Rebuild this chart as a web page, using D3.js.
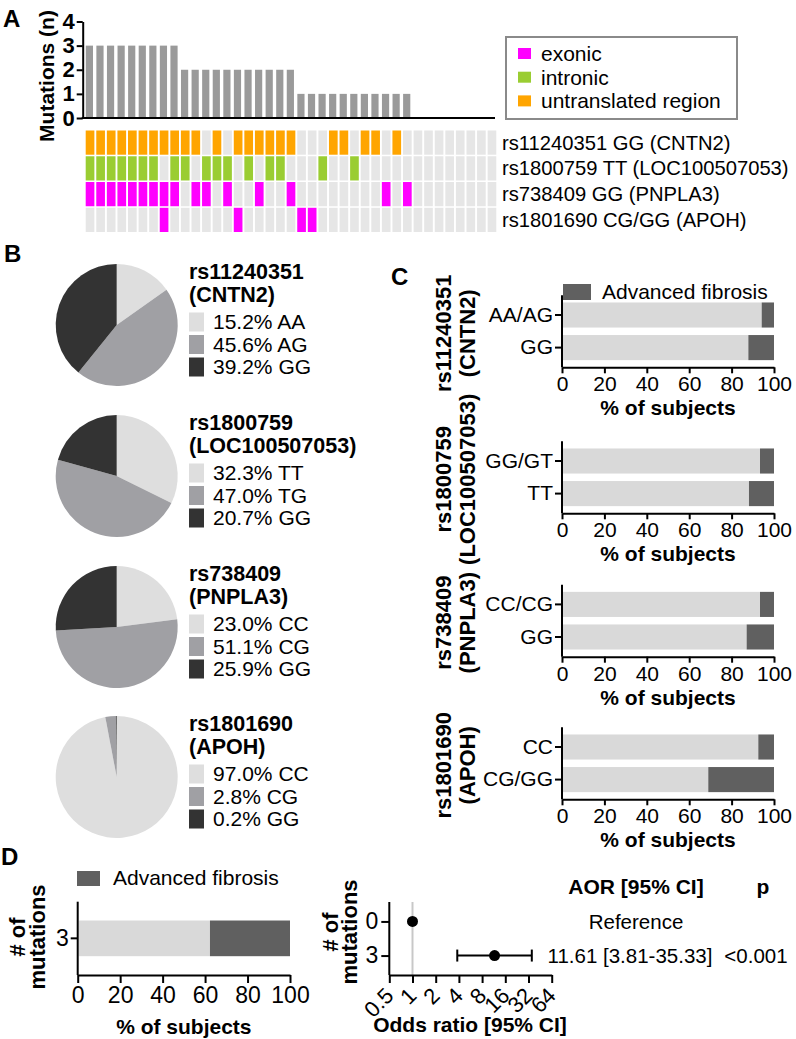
<!DOCTYPE html>
<html>
<head>
<meta charset="utf-8">
<script src="https://cdn.jsdelivr.net/npm/d3@7"></script>
<style>
  body { margin: 0; background: #fff; }
  svg { font-family: "Liberation Sans", Arial, sans-serif; }
</style>
</head>
<body>
<svg id="fig" width="796" height="1039"></svg>
<script>
// ---------- data ----------
// A: number of risk genotypes per subject (one bar per subject)
var subjectMutations = [3,3,3,3,3,3,3,3,3, 2,2,2,2,2,2,2,2,2,2,2, 1,1,1,1,1,1,1,1,1,1,1, 0,0,0,0,0,0,0,0];
var snpRows = ["rs11240351 GG (CNTN2)", "rs1800759 TT (LOC100507053)", "rs738409 GG (PNPLA3)", "rs1801690 CG/GG (APOH)"];
var snpRegion = ["untranslated region", "intronic", "exonic", "exonic"];
// subjects (column index) carrying each risk genotype
var cntn2Hits = [0,1,2,3,4,5,6,7,8,9,10,12,14,15,16,17,18,19,23,24,26,27,29];
var loc100Hits = [0,1,2,3,4,5,6,8,9,11,12,13,15,17,18,22,25];
var pnpla3Hits = [0,1,2,3,4,5,6,7,8,10,11,13,16,19,28,30];
var apohHits = [7,14,20,21];
var regionNames = ["exonic", "intronic", "untranslated region"];
var regionColors = ["#ff00ff", "#9acd32", "#ffa500"];
var mutationTicks = [0,1,2,3,4];

// B: genotype distribution
var pieTitles = [["rs11240351","(CNTN2)"], ["rs1800759","(LOC100507053)"], ["rs738409","(PNPLA3)"], ["rs1801690","(APOH)"]];
var pieGenotypes = [["AA","AG","GG"], ["TT","TG","GG"], ["CC","CG","GG"], ["CC","CG","GG"]];
var piePercents = [[15.2,45.6,39.2], [32.3,47.0,20.7], [23.0,51.1,25.9], [97.0,2.8,0.2]];
var pieColors = ["#dedede", "#a0a0a4", "#333333"];

// C: % of subjects with advanced fibrosis by genotype group
var fibCategories = [["AA/AG","GG"], ["GG/GT","TT"], ["CC/CG","GG"], ["CC","CG/GG"]];
var fibAdvanced = [[5.8,12.1], [6.6,11.8], [6.6,12.9], [7.4,31.0]];
var pctTicks = [0,20,40,60,80,100];

// D: number of mutations
var dCategories = ["3"];
var dAdvanced = [37.7];
var orCategories = ["0","3"];
var orValues = [1, 11.61];
var orLow = [null, 3.81];
var orHigh = [null, 35.33];
var orTicks = [0.5,1,2,4,8,16,32,64];
var aorText = ["Reference", "11.61 [3.81-35.33]"];
var pText = ["", "<0.001"];

var lightBar = "#d9d9d9", darkBar = "#606060";

var svg = d3.select("#fig");

function styleAxis(g, fs, bold) {
  g.select(".domain").attr("stroke", "#000").attr("stroke-width", 2);
  g.selectAll(".tick line").attr("stroke", "#000").attr("stroke-width", 2);
  g.selectAll("text").attr("font-size", fs).attr("fill", "#000")
    .attr("font-family", '"Liberation Sans", Arial, sans-serif')
    .attr("font-weight", bold ? "bold" : "normal");
}

function letter(t, x, y) {
  svg.append("text").attr("x", x).attr("y", y).attr("font-size", 24)
    .attr("font-weight", "bold").text(t);
}

function rotLabel(lines, xs, cy, fs) {
  lines.forEach(function(l, i) {
    svg.append("text").attr("transform", "translate(" + xs[i] + "," + cy + ") rotate(-90)")
      .attr("text-anchor", "middle").attr("font-size", fs).attr("font-weight", "bold").text(l);
  });
}

// ---------- A ----------
letter("A", 3, 27);
var xCol = d3.scaleBand().domain(d3.range(subjectMutations.length)).range([85.5, 498]).padding(0);
var yMut = d3.scaleLinear().domain([0, 4]).range([118, 21.5]);

svg.append("g").selectAll("rect").data(subjectMutations).join("rect")
  .attr("x", function(d, i) { return xCol(i) + 0.3; })
  .attr("width", xCol.bandwidth() * 0.68)
  .attr("y", function(d) { return yMut(d); })
  .attr("height", function(d) { return yMut(0) - yMut(d); })
  .attr("fill", "#9a9a9a");

var gyA = svg.append("g").attr("transform", "translate(82.7,0)")
  .call(d3.axisLeft(yMut).tickValues(mutationTicks).tickFormat(d3.format("d"))
    .tickSize(6).tickPadding(2).tickSizeOuter(0));
styleAxis(gyA, 22, true);
svg.append("line").attr("x1", 81.7).attr("x2", 495).attr("y1", yMut(0)).attr("y2", yMut(0))
  .attr("stroke", "#000").attr("stroke-width", 2);
rotLabel(["Mutations (n)"], [54], 76, 21);

// legend
svg.append("rect").attr("x", 506).attr("y", 37).attr("width", 231).attr("height", 82)
  .attr("fill", "#fff").attr("stroke", "#8a8a8a").attr("stroke-width", 2);
regionNames.forEach(function(n, i) {
  svg.append("rect").attr("x", 518).attr("y", 48 + i * 23.7).attr("width", 13).attr("height", 11)
    .attr("fill", regionColors[i]);
  svg.append("text").attr("x", 541).attr("y", 53.5 + i * 23.7).attr("dy", "0.35em")
    .attr("font-size", 21).text(n);
});

// tile grid
var yRow = d3.scaleBand().domain(d3.range(snpRows.length)).range([130.5, 232]).paddingInner(0.06);
var hits = [cntn2Hits, loc100Hits, pnpla3Hits, apohHits];
var cells = [];
hits.forEach(function(h, r) {
  subjectMutations.forEach(function(m, c) {
    cells.push({ r: r, c: c, on: h.indexOf(c) >= 0 });
  });
});
svg.append("g").selectAll("rect").data(cells).join("rect")
  .attr("x", function(d) { return xCol(d.c) + 0.2; })
  .attr("width", xCol.bandwidth() * 0.82)
  .attr("y", function(d) { return yRow(d.r); })
  .attr("height", yRow.bandwidth())
  .attr("fill", function(d) {
    return d.on ? regionColors[regionNames.indexOf(snpRegion[d.r])] : "#e6e6e6";
  });
snpRows.forEach(function(s, r) {
  svg.append("text").attr("x", 502).attr("y", yRow(r) + yRow.bandwidth() / 2).attr("dy", "0.35em")
    .attr("font-size", 20.2).text(s);
});

// ---------- B ----------
letter("B", 4, 262);
var pie = d3.pie().sort(null).value(function(d) { return d; });
var arc = d3.arc().innerRadius(0).outerRadius(61);
var pieCy = [325, 476, 627, 777];
piePercents.forEach(function(p, k) {
  var g = svg.append("g").attr("transform", "translate(116.7," + pieCy[k] + ")");
  g.selectAll("path").data(pie(p)).join("path")
    .attr("d", arc).attr("fill", function(d, i) { return pieColors[i]; });
  var lg = svg.append("g").attr("transform", "translate(189," + pieCy[k] + ")");
  pieTitles[k].forEach(function(t, i) {
    lg.append("text").attr("x", 0).attr("y", -46 + i * 22.5).attr("font-size", 21.5)
      .attr("font-weight", "bold").text(t);
  });
  p.forEach(function(v, i) {
    lg.append("rect").attr("x", 0).attr("y", -12.5 + i * 22.5).attr("width", 15).attr("height", 19)
      .attr("fill", pieColors[i]);
    lg.append("text").attr("x", 24).attr("y", -3 + i * 22.5).attr("dy", "0.35em")
      .attr("font-size", 21).text(v.toFixed(1) + "% " + pieGenotypes[k][i]);
  });
});

// ---------- C ----------
letter("C", 391, 285);
svg.append("rect").attr("x", 563).attr("y", 284).attr("width", 28).attr("height", 16).attr("fill", darkBar);
svg.append("text").attr("x", 602).attr("y", 292).attr("dy", "0.35em").attr("font-size", 21).text("Advanced fibrosis");

function stacked(cats, adv, yTop, yAx, x0, x1, o) {
  var x = d3.scaleLinear().domain([0, 100]).range([x0, x1]);
  var y = d3.scaleBand().domain(cats).range([yTop, yAx]).paddingInner(o.pi).paddingOuter(o.po);
  var g = svg.append("g");
  g.selectAll("rect.l").data(cats).join("rect").attr("class", "l")
    .attr("x", x(0) + 1).attr("y", function(d) { return y(d); })
    .attr("width", function(d, i) { return x(100 - adv[i]) - x(0) - 1; })
    .attr("height", y.bandwidth()).attr("fill", lightBar);
  g.selectAll("rect.d").data(cats).join("rect").attr("class", "d")
    .attr("x", function(d, i) { return x(100 - adv[i]); }).attr("y", function(d) { return y(d); })
    .attr("width", function(d, i) { return x(100) - x(100 - adv[i]); })
    .attr("height", y.bandwidth()).attr("fill", darkBar);
  var gx = svg.append("g").attr("transform", "translate(0," + yAx + ")")
    .call(d3.axisBottom(x).tickValues(pctTicks).tickSize(o.ts).tickPadding(o.tp).tickSizeOuter(0));
  styleAxis(gx, o.fs, false);
  var gy = svg.append("g").attr("transform", "translate(" + x0 + ",0)")
    .call(d3.axisLeft(y).tickSize(o.yts).tickPadding(2).tickSizeOuter(0));
  gy.select(".domain").attr("d", "M0," + yTop + "V" + yAx);
  styleAxis(gy, o.fs, false);
  svg.append("text").attr("x", (x0 + x1) / 2).attr("y", yAx + o.tty).attr("text-anchor", "middle")
    .attr("font-size", 21).attr("font-weight", "bold").text("% of subjects");
}

var cAxisY = [367.3, 513.3, 656.7, 799.3];
fibCategories.forEach(function(cats, k) {
  stacked(cats, fibAdvanced[k], cAxisY[k] - 72, cAxisY[k], 562, 774,
    { pi: 0.23, po: 0.22, ts: 6, tp: 3, fs: 21, yts: 7, tty: 48 });
  rotLabel(pieTitles[k], [451, 475], cAxisY[k] - 34, 22);
});

// ---------- D ----------
letter("D", 1, 865);
svg.append("rect").attr("x", 77).attr("y", 871).attr("width", 23).attr("height", 15).attr("fill", darkBar);
svg.append("text").attr("x", 113).attr("y", 878).attr("dy", "0.35em").attr("font-size", 21).text("Advanced fibrosis");
stacked(dCategories, dAdvanced, 901.7, 975, 77.7, 290,
  { pi: 0, po: 0.527, ts: 8, tp: 4, fs: 23, yts: 7, tty: 59 });
rotLabel(["# of", "mutations"], [25, 45], 937, 22);

// forest plot
var xOr = d3.scaleLog().base(2).domain([0.5, 64]).range([389.3, 551.7]);
var yOr = d3.scalePoint().domain(orCategories).range([902, 975]).padding(0.57);
svg.append("line").attr("x1", xOr(1)).attr("x2", xOr(1)).attr("y1", 902).attr("y2", 975)
  .attr("stroke", "#c8c8c8").attr("stroke-width", 2);
orCategories.forEach(function(c, i) {
  if (orLow[i] != null) {
    var cy = yOr(c);
    svg.append("line").attr("x1", xOr(orLow[i])).attr("x2", xOr(orHigh[i])).attr("y1", cy).attr("y2", cy)
      .attr("stroke", "#000").attr("stroke-width", 2);
    [orLow[i], orHigh[i]].forEach(function(v) {
      svg.append("line").attr("x1", xOr(v)).attr("x2", xOr(v)).attr("y1", cy - 6).attr("y2", cy + 6)
        .attr("stroke", "#000").attr("stroke-width", 2);
    });
  }
  svg.append("circle").attr("cx", xOr(orValues[i])).attr("cy", yOr(c)).attr("r", 5.5).attr("fill", "#000");
});
var gxo = svg.append("g").attr("transform", "translate(0,975)")
  .call(d3.axisBottom(xOr).tickValues(orTicks).tickFormat(function(d) { return d; }).tickSize(8).tickSizeOuter(0));
styleAxis(gxo, 22, false);
gxo.selectAll(".tick text").attr("y", 0).attr("dy", 0)
  .attr("transform", "translate(5,22) rotate(-45)").attr("text-anchor", "end");
var gyo = svg.append("g").attr("transform", "translate(389.3,0)")
  .call(d3.axisLeft(yOr).tickSize(8).tickPadding(3).tickSizeOuter(0));
gyo.select(".domain").attr("d", "M0,902V975");
styleAxis(gyo, 23, false);
svg.append("text").attr("x", 470).attr("y", 1032).attr("text-anchor", "middle")
  .attr("font-size", 21).attr("font-weight", "bold").text("Odds ratio [95% CI]");
rotLabel(["# of", "mutations"], [338, 357], 932, 22);

// table
svg.append("text").attr("x", 636).attr("y", 894).attr("text-anchor", "middle")
  .attr("font-size", 21).attr("font-weight", "bold").text("AOR [95% CI]");
svg.append("text").attr("x", 763).attr("y", 894).attr("text-anchor", "middle")
  .attr("font-size", 21).attr("font-weight", "bold").text("p");
orCategories.forEach(function(c, i) {
  svg.append("text").attr("x", i === 0 ? 636 : 630).attr("y", yOr(c)).attr("dy", "0.35em")
    .attr("text-anchor", "middle").attr("font-size", 20.5).text(aorText[i]);
  svg.append("text").attr("x", 756).attr("y", yOr(c)).attr("dy", "0.35em")
    .attr("text-anchor", "middle").attr("font-size", 20.5).text(pText[i]);
});
</script>
</body>
</html>
